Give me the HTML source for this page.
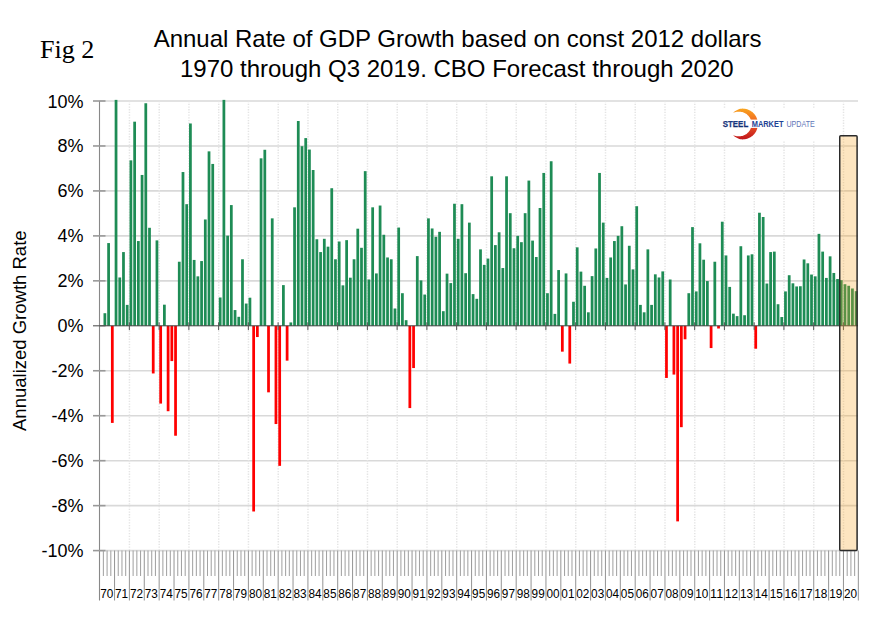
<!DOCTYPE html><html><head><meta charset="utf-8"><title>Annual Rate of GDP Growth</title><style>html,body{margin:0;padding:0;background:#fff}svg{display:block}</style></head><body><svg width="872" height="622" viewBox="0 0 872 622">
<defs><linearGradient id="cg" x1="0" y1="0" x2="0" y2="1"><stop offset="0" stop-color="#F9A51E"/><stop offset="0.5" stop-color="#EE5A24"/><stop offset="1" stop-color="#C0141B"/></linearGradient><linearGradient id="sg" x1="0" y1="0" x2="0" y2="1"><stop offset="0" stop-color="#274E9E"/><stop offset="1" stop-color="#0A2366"/></linearGradient><clipPath id="cc"><rect x="733" y="100" width="40" height="45"/></clipPath></defs>
<rect width="872" height="622" fill="#fff"/>
<text x="40" y="58.4" font-family="Liberation Serif, serif" font-size="26.1" fill="#000">Fig 2</text>
<text x="457.6" y="47" text-anchor="middle" font-family="Liberation Sans, sans-serif" font-size="24" fill="#000">Annual Rate of GDP Growth based on const 2012 dollars</text>
<text x="456.8" y="76.5" text-anchor="middle" font-family="Liberation Sans, sans-serif" font-size="24" fill="#000">1970 through Q3 2019. CBO Forecast through 2020</text>
<text transform="translate(26,330.7) rotate(-90)" text-anchor="middle" font-family="Liberation Sans, sans-serif" font-size="18.5" fill="#000">Annualized Growth Rate</text>
<line x1="99.3" y1="101" x2="858.0" y2="101" stroke="#D9D9D9" stroke-width="1.6"/>
<line x1="99.3" y1="145.96" x2="858.0" y2="145.96" stroke="#D9D9D9" stroke-width="1.6"/>
<line x1="99.3" y1="190.92" x2="858.0" y2="190.92" stroke="#D9D9D9" stroke-width="1.6"/>
<line x1="99.3" y1="235.88" x2="858.0" y2="235.88" stroke="#D9D9D9" stroke-width="1.6"/>
<line x1="99.3" y1="280.84" x2="858.0" y2="280.84" stroke="#D9D9D9" stroke-width="1.6"/>
<line x1="99.3" y1="370.76" x2="858.0" y2="370.76" stroke="#D9D9D9" stroke-width="1.6"/>
<line x1="99.3" y1="415.72" x2="858.0" y2="415.72" stroke="#D9D9D9" stroke-width="1.6"/>
<line x1="99.3" y1="460.68" x2="858.0" y2="460.68" stroke="#D9D9D9" stroke-width="1.6"/>
<line x1="99.3" y1="505.64" x2="858.0" y2="505.64" stroke="#D9D9D9" stroke-width="1.6"/>
<line x1="99.3" y1="550.6" x2="858.0" y2="550.6" stroke="#D9D9D9" stroke-width="1.6"/>
<line x1="129.45" y1="101.0" x2="129.45" y2="550.6" stroke="#E4E4E4" stroke-width="1.5" stroke-dasharray="1.3,1.4"/>
<line x1="159.21" y1="101.0" x2="159.21" y2="550.6" stroke="#E4E4E4" stroke-width="1.5" stroke-dasharray="1.3,1.4"/>
<line x1="188.96" y1="101.0" x2="188.96" y2="550.6" stroke="#E4E4E4" stroke-width="1.5" stroke-dasharray="1.3,1.4"/>
<line x1="218.71" y1="101.0" x2="218.71" y2="550.6" stroke="#E4E4E4" stroke-width="1.5" stroke-dasharray="1.3,1.4"/>
<line x1="248.46" y1="101.0" x2="248.46" y2="550.6" stroke="#E4E4E4" stroke-width="1.5" stroke-dasharray="1.3,1.4"/>
<line x1="278.22" y1="101.0" x2="278.22" y2="550.6" stroke="#E4E4E4" stroke-width="1.5" stroke-dasharray="1.3,1.4"/>
<line x1="307.97" y1="101.0" x2="307.97" y2="550.6" stroke="#E4E4E4" stroke-width="1.5" stroke-dasharray="1.3,1.4"/>
<line x1="337.72" y1="101.0" x2="337.72" y2="550.6" stroke="#E4E4E4" stroke-width="1.5" stroke-dasharray="1.3,1.4"/>
<line x1="367.48" y1="101.0" x2="367.48" y2="550.6" stroke="#E4E4E4" stroke-width="1.5" stroke-dasharray="1.3,1.4"/>
<line x1="397.23" y1="101.0" x2="397.23" y2="550.6" stroke="#E4E4E4" stroke-width="1.5" stroke-dasharray="1.3,1.4"/>
<line x1="426.98" y1="101.0" x2="426.98" y2="550.6" stroke="#E4E4E4" stroke-width="1.5" stroke-dasharray="1.3,1.4"/>
<line x1="456.74" y1="101.0" x2="456.74" y2="550.6" stroke="#E4E4E4" stroke-width="1.5" stroke-dasharray="1.3,1.4"/>
<line x1="486.49" y1="101.0" x2="486.49" y2="550.6" stroke="#E4E4E4" stroke-width="1.5" stroke-dasharray="1.3,1.4"/>
<line x1="516.24" y1="101.0" x2="516.24" y2="550.6" stroke="#E4E4E4" stroke-width="1.5" stroke-dasharray="1.3,1.4"/>
<line x1="545.99" y1="101.0" x2="545.99" y2="550.6" stroke="#E4E4E4" stroke-width="1.5" stroke-dasharray="1.3,1.4"/>
<line x1="575.75" y1="101.0" x2="575.75" y2="550.6" stroke="#E4E4E4" stroke-width="1.5" stroke-dasharray="1.3,1.4"/>
<line x1="605.5" y1="101.0" x2="605.5" y2="550.6" stroke="#E4E4E4" stroke-width="1.5" stroke-dasharray="1.3,1.4"/>
<line x1="635.25" y1="101.0" x2="635.25" y2="550.6" stroke="#E4E4E4" stroke-width="1.5" stroke-dasharray="1.3,1.4"/>
<line x1="665.01" y1="101.0" x2="665.01" y2="550.6" stroke="#E4E4E4" stroke-width="1.5" stroke-dasharray="1.3,1.4"/>
<line x1="694.76" y1="101.0" x2="694.76" y2="550.6" stroke="#E4E4E4" stroke-width="1.5" stroke-dasharray="1.3,1.4"/>
<line x1="724.51" y1="101.0" x2="724.51" y2="550.6" stroke="#E4E4E4" stroke-width="1.5" stroke-dasharray="1.3,1.4"/>
<line x1="754.26" y1="101.0" x2="754.26" y2="550.6" stroke="#E4E4E4" stroke-width="1.5" stroke-dasharray="1.3,1.4"/>
<line x1="784.02" y1="101.0" x2="784.02" y2="550.6" stroke="#E4E4E4" stroke-width="1.5" stroke-dasharray="1.3,1.4"/>
<line x1="813.77" y1="101.0" x2="813.77" y2="550.6" stroke="#E4E4E4" stroke-width="1.5" stroke-dasharray="1.3,1.4"/>
<line x1="843.52" y1="101.0" x2="843.52" y2="550.6" stroke="#E4E4E4" stroke-width="1.5" stroke-dasharray="1.3,1.4"/>
<rect x="712" y="108" width="110" height="32.5" fill="#fff"/>
<rect x="103.5" y="313.21" width="2.75" height="12.59" fill="#1E8C55"/>
<rect x="107.22" y="243.07" width="2.75" height="82.73" fill="#1E8C55"/>
<rect x="110.94" y="325.8" width="2.75" height="97.11" fill="#FF0000"/>
<rect x="114.66" y="99.88" width="2.75" height="225.92" fill="#1E8C55"/>
<rect x="118.38" y="277.47" width="2.75" height="48.33" fill="#1E8C55"/>
<rect x="122.1" y="252.07" width="2.75" height="73.73" fill="#1E8C55"/>
<rect x="125.82" y="304.89" width="2.75" height="20.91" fill="#1E8C55"/>
<rect x="129.54" y="160.35" width="2.75" height="165.45" fill="#1E8C55"/>
<rect x="133.26" y="121.68" width="2.75" height="204.12" fill="#1E8C55"/>
<rect x="136.98" y="241.05" width="2.75" height="84.75" fill="#1E8C55"/>
<rect x="140.69" y="174.96" width="2.75" height="150.84" fill="#1E8C55"/>
<rect x="144.41" y="103.25" width="2.75" height="222.55" fill="#1E8C55"/>
<rect x="148.13" y="227.79" width="2.75" height="98.01" fill="#1E8C55"/>
<rect x="151.85" y="325.8" width="2.75" height="47.66" fill="#FF0000"/>
<rect x="155.57" y="240.38" width="2.75" height="85.42" fill="#1E8C55"/>
<rect x="159.29" y="325.8" width="2.75" height="77.78" fill="#FF0000"/>
<rect x="163.01" y="304.67" width="2.75" height="21.13" fill="#1E8C55"/>
<rect x="166.73" y="325.8" width="2.75" height="85.42" fill="#FF0000"/>
<rect x="170.45" y="325.8" width="2.75" height="35.29" fill="#FF0000"/>
<rect x="174.17" y="325.8" width="2.75" height="109.93" fill="#FF0000"/>
<rect x="177.89" y="261.73" width="2.75" height="64.07" fill="#1E8C55"/>
<rect x="181.61" y="172.04" width="2.75" height="153.76" fill="#1E8C55"/>
<rect x="185.32" y="204.18" width="2.75" height="121.62" fill="#1E8C55"/>
<rect x="189.04" y="123.48" width="2.75" height="202.32" fill="#1E8C55"/>
<rect x="192.76" y="259.93" width="2.75" height="65.87" fill="#1E8C55"/>
<rect x="196.48" y="276.34" width="2.75" height="49.46" fill="#1E8C55"/>
<rect x="200.2" y="261.06" width="2.75" height="64.74" fill="#1E8C55"/>
<rect x="203.92" y="219.47" width="2.75" height="106.33" fill="#1E8C55"/>
<rect x="207.64" y="151.36" width="2.75" height="174.44" fill="#1E8C55"/>
<rect x="211.36" y="163.94" width="2.75" height="161.86" fill="#1E8C55"/>
<rect x="218.8" y="297.48" width="2.75" height="28.32" fill="#1E8C55"/>
<rect x="222.52" y="99.88" width="2.75" height="225.92" fill="#1E8C55"/>
<rect x="226.23" y="235.66" width="2.75" height="90.14" fill="#1E8C55"/>
<rect x="229.95" y="205.08" width="2.75" height="120.72" fill="#1E8C55"/>
<rect x="233.67" y="310.06" width="2.75" height="15.74" fill="#1E8C55"/>
<rect x="237.39" y="316.81" width="2.75" height="8.99" fill="#1E8C55"/>
<rect x="241.11" y="259.26" width="2.75" height="66.54" fill="#1E8C55"/>
<rect x="244.83" y="303.54" width="2.75" height="22.26" fill="#1E8C55"/>
<rect x="248.55" y="297.7" width="2.75" height="28.1" fill="#1E8C55"/>
<rect x="252.27" y="325.8" width="2.75" height="185.68" fill="#FF0000"/>
<rect x="255.99" y="325.8" width="2.75" height="11.24" fill="#FF0000"/>
<rect x="259.71" y="158.32" width="2.75" height="167.48" fill="#1E8C55"/>
<rect x="263.43" y="149.78" width="2.75" height="176.02" fill="#1E8C55"/>
<rect x="267.14" y="325.8" width="2.75" height="66.54" fill="#FF0000"/>
<rect x="270.86" y="218.35" width="2.75" height="107.45" fill="#1E8C55"/>
<rect x="274.58" y="325.8" width="2.75" height="98.24" fill="#FF0000"/>
<rect x="278.3" y="325.8" width="2.75" height="140.05" fill="#FF0000"/>
<rect x="282.02" y="285.11" width="2.75" height="40.69" fill="#1E8C55"/>
<rect x="285.74" y="325.8" width="2.75" height="34.84" fill="#FF0000"/>
<rect x="289.46" y="322.43" width="2.75" height="3.37" fill="#1E8C55"/>
<rect x="293.18" y="207.33" width="2.75" height="118.47" fill="#1E8C55"/>
<rect x="296.9" y="121.01" width="2.75" height="204.79" fill="#1E8C55"/>
<rect x="300.62" y="146.18" width="2.75" height="179.62" fill="#1E8C55"/>
<rect x="304.34" y="138.09" width="2.75" height="187.71" fill="#1E8C55"/>
<rect x="308.06" y="149.56" width="2.75" height="176.24" fill="#1E8C55"/>
<rect x="311.77" y="170.01" width="2.75" height="155.79" fill="#1E8C55"/>
<rect x="315.49" y="239.25" width="2.75" height="86.55" fill="#1E8C55"/>
<rect x="319.21" y="252.07" width="2.75" height="73.73" fill="#1E8C55"/>
<rect x="322.93" y="238.8" width="2.75" height="87" fill="#1E8C55"/>
<rect x="326.65" y="246.67" width="2.75" height="79.13" fill="#1E8C55"/>
<rect x="330.37" y="188.22" width="2.75" height="137.58" fill="#1E8C55"/>
<rect x="334.09" y="259.26" width="2.75" height="66.54" fill="#1E8C55"/>
<rect x="337.81" y="241.5" width="2.75" height="84.3" fill="#1E8C55"/>
<rect x="341.53" y="285.34" width="2.75" height="40.46" fill="#1E8C55"/>
<rect x="345.25" y="240.15" width="2.75" height="85.65" fill="#1E8C55"/>
<rect x="348.97" y="277.69" width="2.75" height="48.11" fill="#1E8C55"/>
<rect x="352.68" y="259.26" width="2.75" height="66.54" fill="#1E8C55"/>
<rect x="356.4" y="228.69" width="2.75" height="97.11" fill="#1E8C55"/>
<rect x="360.12" y="247.79" width="2.75" height="78.01" fill="#1E8C55"/>
<rect x="363.84" y="171.14" width="2.75" height="154.66" fill="#1E8C55"/>
<rect x="367.56" y="279.49" width="2.75" height="46.31" fill="#1E8C55"/>
<rect x="371.28" y="207.33" width="2.75" height="118.47" fill="#1E8C55"/>
<rect x="375" y="273.42" width="2.75" height="52.38" fill="#1E8C55"/>
<rect x="378.72" y="205.53" width="2.75" height="120.27" fill="#1E8C55"/>
<rect x="382.44" y="234.76" width="2.75" height="91.04" fill="#1E8C55"/>
<rect x="386.16" y="257.46" width="2.75" height="68.34" fill="#1E8C55"/>
<rect x="389.88" y="259.26" width="2.75" height="66.54" fill="#1E8C55"/>
<rect x="393.59" y="308.49" width="2.75" height="17.31" fill="#1E8C55"/>
<rect x="397.31" y="227.56" width="2.75" height="98.24" fill="#1E8C55"/>
<rect x="401.03" y="293.2" width="2.75" height="32.6" fill="#1E8C55"/>
<rect x="404.75" y="320.18" width="2.75" height="5.62" fill="#1E8C55"/>
<rect x="408.47" y="325.8" width="2.75" height="82.28" fill="#FF0000"/>
<rect x="412.19" y="325.8" width="2.75" height="42.26" fill="#FF0000"/>
<rect x="415.91" y="256.11" width="2.75" height="69.69" fill="#1E8C55"/>
<rect x="419.63" y="280.39" width="2.75" height="45.41" fill="#1E8C55"/>
<rect x="423.35" y="294.55" width="2.75" height="31.25" fill="#1E8C55"/>
<rect x="427.07" y="218.35" width="2.75" height="107.45" fill="#1E8C55"/>
<rect x="430.79" y="228.46" width="2.75" height="97.34" fill="#1E8C55"/>
<rect x="434.51" y="236.78" width="2.75" height="89.02" fill="#1E8C55"/>
<rect x="438.22" y="231.83" width="2.75" height="93.97" fill="#1E8C55"/>
<rect x="441.94" y="311.19" width="2.75" height="14.61" fill="#1E8C55"/>
<rect x="445.66" y="273.65" width="2.75" height="52.15" fill="#1E8C55"/>
<rect x="449.38" y="283.09" width="2.75" height="42.71" fill="#1E8C55"/>
<rect x="453.1" y="203.73" width="2.75" height="122.07" fill="#1E8C55"/>
<rect x="456.82" y="238.8" width="2.75" height="87" fill="#1E8C55"/>
<rect x="460.54" y="204.18" width="2.75" height="121.62" fill="#1E8C55"/>
<rect x="464.26" y="273.2" width="2.75" height="52.6" fill="#1E8C55"/>
<rect x="467.98" y="222.62" width="2.75" height="103.18" fill="#1E8C55"/>
<rect x="471.7" y="294.1" width="2.75" height="31.7" fill="#1E8C55"/>
<rect x="475.42" y="298.82" width="2.75" height="26.98" fill="#1E8C55"/>
<rect x="479.13" y="249.37" width="2.75" height="76.43" fill="#1E8C55"/>
<rect x="482.85" y="264.88" width="2.75" height="60.92" fill="#1E8C55"/>
<rect x="486.57" y="258.58" width="2.75" height="67.22" fill="#1E8C55"/>
<rect x="490.29" y="176.31" width="2.75" height="149.49" fill="#1E8C55"/>
<rect x="494.01" y="245.1" width="2.75" height="80.7" fill="#1E8C55"/>
<rect x="497.73" y="232.28" width="2.75" height="93.52" fill="#1E8C55"/>
<rect x="501.45" y="268.03" width="2.75" height="57.77" fill="#1E8C55"/>
<rect x="505.17" y="176.31" width="2.75" height="149.49" fill="#1E8C55"/>
<rect x="508.89" y="213.18" width="2.75" height="112.62" fill="#1E8C55"/>
<rect x="512.61" y="248.24" width="2.75" height="77.56" fill="#1E8C55"/>
<rect x="516.33" y="235.88" width="2.75" height="89.92" fill="#1E8C55"/>
<rect x="520.04" y="242.17" width="2.75" height="83.63" fill="#1E8C55"/>
<rect x="523.76" y="213.18" width="2.75" height="112.62" fill="#1E8C55"/>
<rect x="527.48" y="180.58" width="2.75" height="145.22" fill="#1E8C55"/>
<rect x="531.2" y="240.6" width="2.75" height="85.2" fill="#1E8C55"/>
<rect x="534.92" y="257.01" width="2.75" height="68.79" fill="#1E8C55"/>
<rect x="538.64" y="208" width="2.75" height="117.8" fill="#1E8C55"/>
<rect x="542.36" y="172.94" width="2.75" height="152.86" fill="#1E8C55"/>
<rect x="546.08" y="293.2" width="2.75" height="32.6" fill="#1E8C55"/>
<rect x="549.8" y="161.25" width="2.75" height="164.55" fill="#1E8C55"/>
<rect x="553.52" y="313.89" width="2.75" height="11.91" fill="#1E8C55"/>
<rect x="557.24" y="270.05" width="2.75" height="55.75" fill="#1E8C55"/>
<rect x="560.96" y="325.8" width="2.75" height="25.85" fill="#FF0000"/>
<rect x="564.67" y="273.42" width="2.75" height="52.38" fill="#1E8C55"/>
<rect x="568.39" y="325.8" width="2.75" height="37.77" fill="#FF0000"/>
<rect x="572.11" y="301.75" width="2.75" height="24.05" fill="#1E8C55"/>
<rect x="575.83" y="247.34" width="2.75" height="78.46" fill="#1E8C55"/>
<rect x="579.55" y="271.62" width="2.75" height="54.18" fill="#1E8C55"/>
<rect x="583.27" y="285.79" width="2.75" height="40.01" fill="#1E8C55"/>
<rect x="586.99" y="312.31" width="2.75" height="13.49" fill="#1E8C55"/>
<rect x="590.71" y="276.12" width="2.75" height="49.68" fill="#1E8C55"/>
<rect x="594.43" y="248.47" width="2.75" height="77.33" fill="#1E8C55"/>
<rect x="598.15" y="172.94" width="2.75" height="152.86" fill="#1E8C55"/>
<rect x="601.87" y="222.62" width="2.75" height="103.18" fill="#1E8C55"/>
<rect x="605.58" y="277.92" width="2.75" height="47.88" fill="#1E8C55"/>
<rect x="609.3" y="257.46" width="2.75" height="68.34" fill="#1E8C55"/>
<rect x="613.02" y="241.05" width="2.75" height="84.75" fill="#1E8C55"/>
<rect x="616.74" y="235.88" width="2.75" height="89.92" fill="#1E8C55"/>
<rect x="620.46" y="226.21" width="2.75" height="99.59" fill="#1E8C55"/>
<rect x="624.18" y="284.44" width="2.75" height="41.36" fill="#1E8C55"/>
<rect x="627.9" y="245.77" width="2.75" height="80.03" fill="#1E8C55"/>
<rect x="631.62" y="269.38" width="2.75" height="56.42" fill="#1E8C55"/>
<rect x="635.34" y="206.21" width="2.75" height="119.59" fill="#1E8C55"/>
<rect x="639.06" y="304.89" width="2.75" height="20.91" fill="#1E8C55"/>
<rect x="642.78" y="312.31" width="2.75" height="13.49" fill="#1E8C55"/>
<rect x="646.49" y="249.37" width="2.75" height="76.43" fill="#1E8C55"/>
<rect x="650.21" y="304.89" width="2.75" height="20.91" fill="#1E8C55"/>
<rect x="653.93" y="274.32" width="2.75" height="51.48" fill="#1E8C55"/>
<rect x="657.65" y="277.47" width="2.75" height="48.33" fill="#1E8C55"/>
<rect x="661.37" y="271.4" width="2.75" height="54.4" fill="#1E8C55"/>
<rect x="665.09" y="325.8" width="2.75" height="52.15" fill="#FF0000"/>
<rect x="668.81" y="279.49" width="2.75" height="46.31" fill="#1E8C55"/>
<rect x="672.53" y="325.8" width="2.75" height="48.78" fill="#FF0000"/>
<rect x="676.25" y="325.8" width="2.75" height="195.58" fill="#FF0000"/>
<rect x="679.97" y="325.8" width="2.75" height="101.38" fill="#FF0000"/>
<rect x="683.69" y="325.8" width="2.75" height="13.49" fill="#FF0000"/>
<rect x="687.41" y="293.2" width="2.75" height="32.6" fill="#1E8C55"/>
<rect x="691.12" y="227.11" width="2.75" height="98.69" fill="#1E8C55"/>
<rect x="694.84" y="291.41" width="2.75" height="34.39" fill="#1E8C55"/>
<rect x="698.56" y="243.3" width="2.75" height="82.5" fill="#1E8C55"/>
<rect x="702.28" y="259.71" width="2.75" height="66.09" fill="#1E8C55"/>
<rect x="706" y="281.06" width="2.75" height="44.74" fill="#1E8C55"/>
<rect x="709.72" y="325.8" width="2.75" height="22.26" fill="#FF0000"/>
<rect x="713.44" y="261.73" width="2.75" height="64.07" fill="#1E8C55"/>
<rect x="717.16" y="325.8" width="2.75" height="2.7" fill="#FF0000"/>
<rect x="720.88" y="221.72" width="2.75" height="104.08" fill="#1E8C55"/>
<rect x="724.6" y="255.44" width="2.75" height="70.36" fill="#1E8C55"/>
<rect x="728.32" y="286.91" width="2.75" height="38.89" fill="#1E8C55"/>
<rect x="732.03" y="313.66" width="2.75" height="12.14" fill="#1E8C55"/>
<rect x="735.75" y="316.13" width="2.75" height="9.67" fill="#1E8C55"/>
<rect x="739.47" y="246.22" width="2.75" height="79.58" fill="#1E8C55"/>
<rect x="743.19" y="315.23" width="2.75" height="10.57" fill="#1E8C55"/>
<rect x="746.91" y="255.44" width="2.75" height="70.36" fill="#1E8C55"/>
<rect x="750.63" y="254.31" width="2.75" height="71.49" fill="#1E8C55"/>
<rect x="754.35" y="325.8" width="2.75" height="22.93" fill="#FF0000"/>
<rect x="758.07" y="212.73" width="2.75" height="113.07" fill="#1E8C55"/>
<rect x="761.79" y="217" width="2.75" height="108.8" fill="#1E8C55"/>
<rect x="765.51" y="283.54" width="2.75" height="42.26" fill="#1E8C55"/>
<rect x="769.23" y="252.07" width="2.75" height="73.73" fill="#1E8C55"/>
<rect x="772.94" y="251.62" width="2.75" height="74.18" fill="#1E8C55"/>
<rect x="776.66" y="304.22" width="2.75" height="21.58" fill="#1E8C55"/>
<rect x="780.38" y="317.03" width="2.75" height="8.77" fill="#1E8C55"/>
<rect x="784.1" y="291.41" width="2.75" height="34.39" fill="#1E8C55"/>
<rect x="787.82" y="275.22" width="2.75" height="50.58" fill="#1E8C55"/>
<rect x="791.54" y="283.31" width="2.75" height="42.49" fill="#1E8C55"/>
<rect x="795.26" y="286.46" width="2.75" height="39.34" fill="#1E8C55"/>
<rect x="798.98" y="286.24" width="2.75" height="39.56" fill="#1E8C55"/>
<rect x="802.7" y="259.48" width="2.75" height="66.32" fill="#1E8C55"/>
<rect x="806.42" y="263.31" width="2.75" height="62.49" fill="#1E8C55"/>
<rect x="810.14" y="274.55" width="2.75" height="51.25" fill="#1E8C55"/>
<rect x="813.86" y="276.34" width="2.75" height="49.46" fill="#1E8C55"/>
<rect x="817.57" y="233.86" width="2.75" height="91.94" fill="#1E8C55"/>
<rect x="821.29" y="251.62" width="2.75" height="74.18" fill="#1E8C55"/>
<rect x="825.01" y="277.92" width="2.75" height="47.88" fill="#1E8C55"/>
<rect x="828.73" y="256.34" width="2.75" height="69.46" fill="#1E8C55"/>
<rect x="832.45" y="272.97" width="2.75" height="52.83" fill="#1E8C55"/>
<rect x="836.17" y="279.04" width="2.75" height="46.76" fill="#1E8C55"/>
<rect x="839.89" y="280.17" width="2.75" height="45.63" fill="#1E8C55"/>
<rect x="843.61" y="284.21" width="2.75" height="41.59" fill="#1E8C55"/>
<rect x="847.33" y="285.79" width="2.75" height="40.01" fill="#1E8C55"/>
<rect x="851.05" y="288.48" width="2.75" height="37.32" fill="#1E8C55"/>
<rect x="854.77" y="291.18" width="2.75" height="34.62" fill="#1E8C55"/>
<line x1="99.3" y1="325.8" x2="858.0" y2="325.8" stroke="#404040" stroke-width="1"/>
<line x1="129.35" y1="322.3" x2="129.35" y2="330.1" stroke="#555" stroke-width="1"/>
<line x1="159.11" y1="322.3" x2="159.11" y2="330.1" stroke="#555" stroke-width="1"/>
<line x1="188.86" y1="322.3" x2="188.86" y2="330.1" stroke="#555" stroke-width="1"/>
<line x1="218.61" y1="322.3" x2="218.61" y2="330.1" stroke="#555" stroke-width="1"/>
<line x1="248.36" y1="322.3" x2="248.36" y2="330.1" stroke="#555" stroke-width="1"/>
<line x1="278.12" y1="322.3" x2="278.12" y2="330.1" stroke="#555" stroke-width="1"/>
<line x1="307.87" y1="322.3" x2="307.87" y2="330.1" stroke="#555" stroke-width="1"/>
<line x1="337.62" y1="322.3" x2="337.62" y2="330.1" stroke="#555" stroke-width="1"/>
<line x1="367.38" y1="322.3" x2="367.38" y2="330.1" stroke="#555" stroke-width="1"/>
<line x1="397.13" y1="322.3" x2="397.13" y2="330.1" stroke="#555" stroke-width="1"/>
<line x1="426.88" y1="322.3" x2="426.88" y2="330.1" stroke="#555" stroke-width="1"/>
<line x1="456.64" y1="322.3" x2="456.64" y2="330.1" stroke="#555" stroke-width="1"/>
<line x1="486.39" y1="322.3" x2="486.39" y2="330.1" stroke="#555" stroke-width="1"/>
<line x1="516.14" y1="322.3" x2="516.14" y2="330.1" stroke="#555" stroke-width="1"/>
<line x1="545.89" y1="322.3" x2="545.89" y2="330.1" stroke="#555" stroke-width="1"/>
<line x1="575.65" y1="322.3" x2="575.65" y2="330.1" stroke="#555" stroke-width="1"/>
<line x1="605.4" y1="322.3" x2="605.4" y2="330.1" stroke="#555" stroke-width="1"/>
<line x1="635.15" y1="322.3" x2="635.15" y2="330.1" stroke="#555" stroke-width="1"/>
<line x1="664.91" y1="322.3" x2="664.91" y2="330.1" stroke="#555" stroke-width="1"/>
<line x1="694.66" y1="322.3" x2="694.66" y2="330.1" stroke="#555" stroke-width="1"/>
<line x1="724.41" y1="322.3" x2="724.41" y2="330.1" stroke="#555" stroke-width="1"/>
<line x1="754.16" y1="322.3" x2="754.16" y2="330.1" stroke="#555" stroke-width="1"/>
<line x1="783.92" y1="322.3" x2="783.92" y2="330.1" stroke="#555" stroke-width="1"/>
<line x1="813.67" y1="322.3" x2="813.67" y2="330.1" stroke="#555" stroke-width="1"/>
<line x1="843.42" y1="322.3" x2="843.42" y2="330.1" stroke="#555" stroke-width="1"/>
<line x1="99.5" y1="101.0" x2="99.5" y2="600.5" stroke="#888" stroke-width="1.1"/>
<line x1="93" y1="101" x2="105.5" y2="101" stroke="#999" stroke-width="1.6"/>
<text x="83.5" y="107.5" text-anchor="end" font-family="Liberation Sans, sans-serif" font-size="18" fill="#000">10%</text>
<line x1="93" y1="145.96" x2="105.5" y2="145.96" stroke="#999" stroke-width="1.6"/>
<text x="83.5" y="152.46" text-anchor="end" font-family="Liberation Sans, sans-serif" font-size="18" fill="#000">8%</text>
<line x1="93" y1="190.92" x2="105.5" y2="190.92" stroke="#999" stroke-width="1.6"/>
<text x="83.5" y="197.42" text-anchor="end" font-family="Liberation Sans, sans-serif" font-size="18" fill="#000">6%</text>
<line x1="93" y1="235.88" x2="105.5" y2="235.88" stroke="#999" stroke-width="1.6"/>
<text x="83.5" y="242.38" text-anchor="end" font-family="Liberation Sans, sans-serif" font-size="18" fill="#000">4%</text>
<line x1="93" y1="280.84" x2="105.5" y2="280.84" stroke="#999" stroke-width="1.6"/>
<text x="83.5" y="287.34" text-anchor="end" font-family="Liberation Sans, sans-serif" font-size="18" fill="#000">2%</text>
<line x1="93" y1="325.8" x2="105.5" y2="325.8" stroke="#555" stroke-width="1.1"/>
<text x="83.5" y="332.3" text-anchor="end" font-family="Liberation Sans, sans-serif" font-size="18" fill="#000">0%</text>
<line x1="93" y1="370.76" x2="105.5" y2="370.76" stroke="#999" stroke-width="1.6"/>
<text x="83.5" y="377.26" text-anchor="end" font-family="Liberation Sans, sans-serif" font-size="18" fill="#000">-2%</text>
<line x1="93" y1="415.72" x2="105.5" y2="415.72" stroke="#999" stroke-width="1.6"/>
<text x="83.5" y="422.22" text-anchor="end" font-family="Liberation Sans, sans-serif" font-size="18" fill="#000">-4%</text>
<line x1="93" y1="460.68" x2="105.5" y2="460.68" stroke="#999" stroke-width="1.6"/>
<text x="83.5" y="467.18" text-anchor="end" font-family="Liberation Sans, sans-serif" font-size="18" fill="#000">-6%</text>
<line x1="93" y1="505.64" x2="105.5" y2="505.64" stroke="#999" stroke-width="1.6"/>
<text x="83.5" y="512.14" text-anchor="end" font-family="Liberation Sans, sans-serif" font-size="18" fill="#000">-8%</text>
<line x1="93" y1="550.6" x2="105.5" y2="550.6" stroke="#999" stroke-width="1.6"/>
<text x="83.5" y="557.1" text-anchor="end" font-family="Liberation Sans, sans-serif" font-size="18" fill="#000">-10%</text>
<line x1="103.37" y1="550.6" x2="103.37" y2="576" stroke="#A3A3A3" stroke-width="1.05"/>
<line x1="107.09" y1="550.6" x2="107.09" y2="576" stroke="#A3A3A3" stroke-width="1.05"/>
<line x1="110.81" y1="550.6" x2="110.81" y2="576" stroke="#A3A3A3" stroke-width="1.05"/>
<line x1="114.53" y1="550.6" x2="114.53" y2="600.5" stroke="#999" stroke-width="1.05"/>
<line x1="118.25" y1="550.6" x2="118.25" y2="576" stroke="#A3A3A3" stroke-width="1.05"/>
<line x1="121.96" y1="550.6" x2="121.96" y2="576" stroke="#A3A3A3" stroke-width="1.05"/>
<line x1="125.68" y1="550.6" x2="125.68" y2="576" stroke="#A3A3A3" stroke-width="1.05"/>
<line x1="129.4" y1="550.6" x2="129.4" y2="600.5" stroke="#999" stroke-width="1.05"/>
<line x1="133.12" y1="550.6" x2="133.12" y2="576" stroke="#A3A3A3" stroke-width="1.05"/>
<line x1="136.84" y1="550.6" x2="136.84" y2="576" stroke="#A3A3A3" stroke-width="1.05"/>
<line x1="140.56" y1="550.6" x2="140.56" y2="576" stroke="#A3A3A3" stroke-width="1.05"/>
<line x1="144.28" y1="550.6" x2="144.28" y2="600.5" stroke="#999" stroke-width="1.05"/>
<line x1="148" y1="550.6" x2="148" y2="576" stroke="#A3A3A3" stroke-width="1.05"/>
<line x1="151.72" y1="550.6" x2="151.72" y2="576" stroke="#A3A3A3" stroke-width="1.05"/>
<line x1="155.44" y1="550.6" x2="155.44" y2="576" stroke="#A3A3A3" stroke-width="1.05"/>
<line x1="159.16" y1="550.6" x2="159.16" y2="600.5" stroke="#999" stroke-width="1.05"/>
<line x1="162.88" y1="550.6" x2="162.88" y2="576" stroke="#A3A3A3" stroke-width="1.05"/>
<line x1="166.59" y1="550.6" x2="166.59" y2="576" stroke="#A3A3A3" stroke-width="1.05"/>
<line x1="170.31" y1="550.6" x2="170.31" y2="576" stroke="#A3A3A3" stroke-width="1.05"/>
<line x1="174.03" y1="550.6" x2="174.03" y2="600.5" stroke="#999" stroke-width="1.05"/>
<line x1="177.75" y1="550.6" x2="177.75" y2="576" stroke="#A3A3A3" stroke-width="1.05"/>
<line x1="181.47" y1="550.6" x2="181.47" y2="576" stroke="#A3A3A3" stroke-width="1.05"/>
<line x1="185.19" y1="550.6" x2="185.19" y2="576" stroke="#A3A3A3" stroke-width="1.05"/>
<line x1="188.91" y1="550.6" x2="188.91" y2="600.5" stroke="#999" stroke-width="1.05"/>
<line x1="192.63" y1="550.6" x2="192.63" y2="576" stroke="#A3A3A3" stroke-width="1.05"/>
<line x1="196.35" y1="550.6" x2="196.35" y2="576" stroke="#A3A3A3" stroke-width="1.05"/>
<line x1="200.07" y1="550.6" x2="200.07" y2="576" stroke="#A3A3A3" stroke-width="1.05"/>
<line x1="203.79" y1="550.6" x2="203.79" y2="600.5" stroke="#999" stroke-width="1.05"/>
<line x1="207.5" y1="550.6" x2="207.5" y2="576" stroke="#A3A3A3" stroke-width="1.05"/>
<line x1="211.22" y1="550.6" x2="211.22" y2="576" stroke="#A3A3A3" stroke-width="1.05"/>
<line x1="214.94" y1="550.6" x2="214.94" y2="576" stroke="#A3A3A3" stroke-width="1.05"/>
<line x1="218.66" y1="550.6" x2="218.66" y2="600.5" stroke="#999" stroke-width="1.05"/>
<line x1="222.38" y1="550.6" x2="222.38" y2="576" stroke="#A3A3A3" stroke-width="1.05"/>
<line x1="226.1" y1="550.6" x2="226.1" y2="576" stroke="#A3A3A3" stroke-width="1.05"/>
<line x1="229.82" y1="550.6" x2="229.82" y2="576" stroke="#A3A3A3" stroke-width="1.05"/>
<line x1="233.54" y1="550.6" x2="233.54" y2="600.5" stroke="#999" stroke-width="1.05"/>
<line x1="237.26" y1="550.6" x2="237.26" y2="576" stroke="#A3A3A3" stroke-width="1.05"/>
<line x1="240.98" y1="550.6" x2="240.98" y2="576" stroke="#A3A3A3" stroke-width="1.05"/>
<line x1="244.7" y1="550.6" x2="244.7" y2="576" stroke="#A3A3A3" stroke-width="1.05"/>
<line x1="248.41" y1="550.6" x2="248.41" y2="600.5" stroke="#999" stroke-width="1.05"/>
<line x1="252.13" y1="550.6" x2="252.13" y2="576" stroke="#A3A3A3" stroke-width="1.05"/>
<line x1="255.85" y1="550.6" x2="255.85" y2="576" stroke="#A3A3A3" stroke-width="1.05"/>
<line x1="259.57" y1="550.6" x2="259.57" y2="576" stroke="#A3A3A3" stroke-width="1.05"/>
<line x1="263.29" y1="550.6" x2="263.29" y2="600.5" stroke="#999" stroke-width="1.05"/>
<line x1="267.01" y1="550.6" x2="267.01" y2="576" stroke="#A3A3A3" stroke-width="1.05"/>
<line x1="270.73" y1="550.6" x2="270.73" y2="576" stroke="#A3A3A3" stroke-width="1.05"/>
<line x1="274.45" y1="550.6" x2="274.45" y2="576" stroke="#A3A3A3" stroke-width="1.05"/>
<line x1="278.17" y1="550.6" x2="278.17" y2="600.5" stroke="#999" stroke-width="1.05"/>
<line x1="281.89" y1="550.6" x2="281.89" y2="576" stroke="#A3A3A3" stroke-width="1.05"/>
<line x1="285.61" y1="550.6" x2="285.61" y2="576" stroke="#A3A3A3" stroke-width="1.05"/>
<line x1="289.33" y1="550.6" x2="289.33" y2="576" stroke="#A3A3A3" stroke-width="1.05"/>
<line x1="293.04" y1="550.6" x2="293.04" y2="600.5" stroke="#999" stroke-width="1.05"/>
<line x1="296.76" y1="550.6" x2="296.76" y2="576" stroke="#A3A3A3" stroke-width="1.05"/>
<line x1="300.48" y1="550.6" x2="300.48" y2="576" stroke="#A3A3A3" stroke-width="1.05"/>
<line x1="304.2" y1="550.6" x2="304.2" y2="576" stroke="#A3A3A3" stroke-width="1.05"/>
<line x1="307.92" y1="550.6" x2="307.92" y2="600.5" stroke="#999" stroke-width="1.05"/>
<line x1="311.64" y1="550.6" x2="311.64" y2="576" stroke="#A3A3A3" stroke-width="1.05"/>
<line x1="315.36" y1="550.6" x2="315.36" y2="576" stroke="#A3A3A3" stroke-width="1.05"/>
<line x1="319.08" y1="550.6" x2="319.08" y2="576" stroke="#A3A3A3" stroke-width="1.05"/>
<line x1="322.8" y1="550.6" x2="322.8" y2="600.5" stroke="#999" stroke-width="1.05"/>
<line x1="326.52" y1="550.6" x2="326.52" y2="576" stroke="#A3A3A3" stroke-width="1.05"/>
<line x1="330.24" y1="550.6" x2="330.24" y2="576" stroke="#A3A3A3" stroke-width="1.05"/>
<line x1="333.95" y1="550.6" x2="333.95" y2="576" stroke="#A3A3A3" stroke-width="1.05"/>
<line x1="337.67" y1="550.6" x2="337.67" y2="600.5" stroke="#999" stroke-width="1.05"/>
<line x1="341.39" y1="550.6" x2="341.39" y2="576" stroke="#A3A3A3" stroke-width="1.05"/>
<line x1="345.11" y1="550.6" x2="345.11" y2="576" stroke="#A3A3A3" stroke-width="1.05"/>
<line x1="348.83" y1="550.6" x2="348.83" y2="576" stroke="#A3A3A3" stroke-width="1.05"/>
<line x1="352.55" y1="550.6" x2="352.55" y2="600.5" stroke="#999" stroke-width="1.05"/>
<line x1="356.27" y1="550.6" x2="356.27" y2="576" stroke="#A3A3A3" stroke-width="1.05"/>
<line x1="359.99" y1="550.6" x2="359.99" y2="576" stroke="#A3A3A3" stroke-width="1.05"/>
<line x1="363.71" y1="550.6" x2="363.71" y2="576" stroke="#A3A3A3" stroke-width="1.05"/>
<line x1="367.43" y1="550.6" x2="367.43" y2="600.5" stroke="#999" stroke-width="1.05"/>
<line x1="371.15" y1="550.6" x2="371.15" y2="576" stroke="#A3A3A3" stroke-width="1.05"/>
<line x1="374.86" y1="550.6" x2="374.86" y2="576" stroke="#A3A3A3" stroke-width="1.05"/>
<line x1="378.58" y1="550.6" x2="378.58" y2="576" stroke="#A3A3A3" stroke-width="1.05"/>
<line x1="382.3" y1="550.6" x2="382.3" y2="600.5" stroke="#999" stroke-width="1.05"/>
<line x1="386.02" y1="550.6" x2="386.02" y2="576" stroke="#A3A3A3" stroke-width="1.05"/>
<line x1="389.74" y1="550.6" x2="389.74" y2="576" stroke="#A3A3A3" stroke-width="1.05"/>
<line x1="393.46" y1="550.6" x2="393.46" y2="576" stroke="#A3A3A3" stroke-width="1.05"/>
<line x1="397.18" y1="550.6" x2="397.18" y2="600.5" stroke="#999" stroke-width="1.05"/>
<line x1="400.9" y1="550.6" x2="400.9" y2="576" stroke="#A3A3A3" stroke-width="1.05"/>
<line x1="404.62" y1="550.6" x2="404.62" y2="576" stroke="#A3A3A3" stroke-width="1.05"/>
<line x1="408.34" y1="550.6" x2="408.34" y2="576" stroke="#A3A3A3" stroke-width="1.05"/>
<line x1="412.06" y1="550.6" x2="412.06" y2="600.5" stroke="#999" stroke-width="1.05"/>
<line x1="415.78" y1="550.6" x2="415.78" y2="576" stroke="#A3A3A3" stroke-width="1.05"/>
<line x1="419.49" y1="550.6" x2="419.49" y2="576" stroke="#A3A3A3" stroke-width="1.05"/>
<line x1="423.21" y1="550.6" x2="423.21" y2="576" stroke="#A3A3A3" stroke-width="1.05"/>
<line x1="426.93" y1="550.6" x2="426.93" y2="600.5" stroke="#999" stroke-width="1.05"/>
<line x1="430.65" y1="550.6" x2="430.65" y2="576" stroke="#A3A3A3" stroke-width="1.05"/>
<line x1="434.37" y1="550.6" x2="434.37" y2="576" stroke="#A3A3A3" stroke-width="1.05"/>
<line x1="438.09" y1="550.6" x2="438.09" y2="576" stroke="#A3A3A3" stroke-width="1.05"/>
<line x1="441.81" y1="550.6" x2="441.81" y2="600.5" stroke="#999" stroke-width="1.05"/>
<line x1="445.53" y1="550.6" x2="445.53" y2="576" stroke="#A3A3A3" stroke-width="1.05"/>
<line x1="449.25" y1="550.6" x2="449.25" y2="576" stroke="#A3A3A3" stroke-width="1.05"/>
<line x1="452.97" y1="550.6" x2="452.97" y2="576" stroke="#A3A3A3" stroke-width="1.05"/>
<line x1="456.69" y1="550.6" x2="456.69" y2="600.5" stroke="#999" stroke-width="1.05"/>
<line x1="460.4" y1="550.6" x2="460.4" y2="576" stroke="#A3A3A3" stroke-width="1.05"/>
<line x1="464.12" y1="550.6" x2="464.12" y2="576" stroke="#A3A3A3" stroke-width="1.05"/>
<line x1="467.84" y1="550.6" x2="467.84" y2="576" stroke="#A3A3A3" stroke-width="1.05"/>
<line x1="471.56" y1="550.6" x2="471.56" y2="600.5" stroke="#999" stroke-width="1.05"/>
<line x1="475.28" y1="550.6" x2="475.28" y2="576" stroke="#A3A3A3" stroke-width="1.05"/>
<line x1="479" y1="550.6" x2="479" y2="576" stroke="#A3A3A3" stroke-width="1.05"/>
<line x1="482.72" y1="550.6" x2="482.72" y2="576" stroke="#A3A3A3" stroke-width="1.05"/>
<line x1="486.44" y1="550.6" x2="486.44" y2="600.5" stroke="#999" stroke-width="1.05"/>
<line x1="490.16" y1="550.6" x2="490.16" y2="576" stroke="#A3A3A3" stroke-width="1.05"/>
<line x1="493.88" y1="550.6" x2="493.88" y2="576" stroke="#A3A3A3" stroke-width="1.05"/>
<line x1="497.6" y1="550.6" x2="497.6" y2="576" stroke="#A3A3A3" stroke-width="1.05"/>
<line x1="501.31" y1="550.6" x2="501.31" y2="600.5" stroke="#999" stroke-width="1.05"/>
<line x1="505.03" y1="550.6" x2="505.03" y2="576" stroke="#A3A3A3" stroke-width="1.05"/>
<line x1="508.75" y1="550.6" x2="508.75" y2="576" stroke="#A3A3A3" stroke-width="1.05"/>
<line x1="512.47" y1="550.6" x2="512.47" y2="576" stroke="#A3A3A3" stroke-width="1.05"/>
<line x1="516.19" y1="550.6" x2="516.19" y2="600.5" stroke="#999" stroke-width="1.05"/>
<line x1="519.91" y1="550.6" x2="519.91" y2="576" stroke="#A3A3A3" stroke-width="1.05"/>
<line x1="523.63" y1="550.6" x2="523.63" y2="576" stroke="#A3A3A3" stroke-width="1.05"/>
<line x1="527.35" y1="550.6" x2="527.35" y2="576" stroke="#A3A3A3" stroke-width="1.05"/>
<line x1="531.07" y1="550.6" x2="531.07" y2="600.5" stroke="#999" stroke-width="1.05"/>
<line x1="534.79" y1="550.6" x2="534.79" y2="576" stroke="#A3A3A3" stroke-width="1.05"/>
<line x1="538.51" y1="550.6" x2="538.51" y2="576" stroke="#A3A3A3" stroke-width="1.05"/>
<line x1="542.23" y1="550.6" x2="542.23" y2="576" stroke="#A3A3A3" stroke-width="1.05"/>
<line x1="545.94" y1="550.6" x2="545.94" y2="600.5" stroke="#999" stroke-width="1.05"/>
<line x1="549.66" y1="550.6" x2="549.66" y2="576" stroke="#A3A3A3" stroke-width="1.05"/>
<line x1="553.38" y1="550.6" x2="553.38" y2="576" stroke="#A3A3A3" stroke-width="1.05"/>
<line x1="557.1" y1="550.6" x2="557.1" y2="576" stroke="#A3A3A3" stroke-width="1.05"/>
<line x1="560.82" y1="550.6" x2="560.82" y2="600.5" stroke="#999" stroke-width="1.05"/>
<line x1="564.54" y1="550.6" x2="564.54" y2="576" stroke="#A3A3A3" stroke-width="1.05"/>
<line x1="568.26" y1="550.6" x2="568.26" y2="576" stroke="#A3A3A3" stroke-width="1.05"/>
<line x1="571.98" y1="550.6" x2="571.98" y2="576" stroke="#A3A3A3" stroke-width="1.05"/>
<line x1="575.7" y1="550.6" x2="575.7" y2="600.5" stroke="#999" stroke-width="1.05"/>
<line x1="579.42" y1="550.6" x2="579.42" y2="576" stroke="#A3A3A3" stroke-width="1.05"/>
<line x1="583.14" y1="550.6" x2="583.14" y2="576" stroke="#A3A3A3" stroke-width="1.05"/>
<line x1="586.85" y1="550.6" x2="586.85" y2="576" stroke="#A3A3A3" stroke-width="1.05"/>
<line x1="590.57" y1="550.6" x2="590.57" y2="600.5" stroke="#999" stroke-width="1.05"/>
<line x1="594.29" y1="550.6" x2="594.29" y2="576" stroke="#A3A3A3" stroke-width="1.05"/>
<line x1="598.01" y1="550.6" x2="598.01" y2="576" stroke="#A3A3A3" stroke-width="1.05"/>
<line x1="601.73" y1="550.6" x2="601.73" y2="576" stroke="#A3A3A3" stroke-width="1.05"/>
<line x1="605.45" y1="550.6" x2="605.45" y2="600.5" stroke="#999" stroke-width="1.05"/>
<line x1="609.17" y1="550.6" x2="609.17" y2="576" stroke="#A3A3A3" stroke-width="1.05"/>
<line x1="612.89" y1="550.6" x2="612.89" y2="576" stroke="#A3A3A3" stroke-width="1.05"/>
<line x1="616.61" y1="550.6" x2="616.61" y2="576" stroke="#A3A3A3" stroke-width="1.05"/>
<line x1="620.33" y1="550.6" x2="620.33" y2="600.5" stroke="#999" stroke-width="1.05"/>
<line x1="624.05" y1="550.6" x2="624.05" y2="576" stroke="#A3A3A3" stroke-width="1.05"/>
<line x1="627.76" y1="550.6" x2="627.76" y2="576" stroke="#A3A3A3" stroke-width="1.05"/>
<line x1="631.48" y1="550.6" x2="631.48" y2="576" stroke="#A3A3A3" stroke-width="1.05"/>
<line x1="635.2" y1="550.6" x2="635.2" y2="600.5" stroke="#999" stroke-width="1.05"/>
<line x1="638.92" y1="550.6" x2="638.92" y2="576" stroke="#A3A3A3" stroke-width="1.05"/>
<line x1="642.64" y1="550.6" x2="642.64" y2="576" stroke="#A3A3A3" stroke-width="1.05"/>
<line x1="646.36" y1="550.6" x2="646.36" y2="576" stroke="#A3A3A3" stroke-width="1.05"/>
<line x1="650.08" y1="550.6" x2="650.08" y2="600.5" stroke="#999" stroke-width="1.05"/>
<line x1="653.8" y1="550.6" x2="653.8" y2="576" stroke="#A3A3A3" stroke-width="1.05"/>
<line x1="657.52" y1="550.6" x2="657.52" y2="576" stroke="#A3A3A3" stroke-width="1.05"/>
<line x1="661.24" y1="550.6" x2="661.24" y2="576" stroke="#A3A3A3" stroke-width="1.05"/>
<line x1="664.96" y1="550.6" x2="664.96" y2="600.5" stroke="#999" stroke-width="1.05"/>
<line x1="668.67" y1="550.6" x2="668.67" y2="576" stroke="#A3A3A3" stroke-width="1.05"/>
<line x1="672.39" y1="550.6" x2="672.39" y2="576" stroke="#A3A3A3" stroke-width="1.05"/>
<line x1="676.11" y1="550.6" x2="676.11" y2="576" stroke="#A3A3A3" stroke-width="1.05"/>
<line x1="679.83" y1="550.6" x2="679.83" y2="600.5" stroke="#999" stroke-width="1.05"/>
<line x1="683.55" y1="550.6" x2="683.55" y2="576" stroke="#A3A3A3" stroke-width="1.05"/>
<line x1="687.27" y1="550.6" x2="687.27" y2="576" stroke="#A3A3A3" stroke-width="1.05"/>
<line x1="690.99" y1="550.6" x2="690.99" y2="576" stroke="#A3A3A3" stroke-width="1.05"/>
<line x1="694.71" y1="550.6" x2="694.71" y2="600.5" stroke="#999" stroke-width="1.05"/>
<line x1="698.43" y1="550.6" x2="698.43" y2="576" stroke="#A3A3A3" stroke-width="1.05"/>
<line x1="702.15" y1="550.6" x2="702.15" y2="576" stroke="#A3A3A3" stroke-width="1.05"/>
<line x1="705.87" y1="550.6" x2="705.87" y2="576" stroke="#A3A3A3" stroke-width="1.05"/>
<line x1="709.59" y1="550.6" x2="709.59" y2="600.5" stroke="#999" stroke-width="1.05"/>
<line x1="713.3" y1="550.6" x2="713.3" y2="576" stroke="#A3A3A3" stroke-width="1.05"/>
<line x1="717.02" y1="550.6" x2="717.02" y2="576" stroke="#A3A3A3" stroke-width="1.05"/>
<line x1="720.74" y1="550.6" x2="720.74" y2="576" stroke="#A3A3A3" stroke-width="1.05"/>
<line x1="724.46" y1="550.6" x2="724.46" y2="600.5" stroke="#999" stroke-width="1.05"/>
<line x1="728.18" y1="550.6" x2="728.18" y2="576" stroke="#A3A3A3" stroke-width="1.05"/>
<line x1="731.9" y1="550.6" x2="731.9" y2="576" stroke="#A3A3A3" stroke-width="1.05"/>
<line x1="735.62" y1="550.6" x2="735.62" y2="576" stroke="#A3A3A3" stroke-width="1.05"/>
<line x1="739.34" y1="550.6" x2="739.34" y2="600.5" stroke="#999" stroke-width="1.05"/>
<line x1="743.06" y1="550.6" x2="743.06" y2="576" stroke="#A3A3A3" stroke-width="1.05"/>
<line x1="746.78" y1="550.6" x2="746.78" y2="576" stroke="#A3A3A3" stroke-width="1.05"/>
<line x1="750.5" y1="550.6" x2="750.5" y2="576" stroke="#A3A3A3" stroke-width="1.05"/>
<line x1="754.21" y1="550.6" x2="754.21" y2="600.5" stroke="#999" stroke-width="1.05"/>
<line x1="757.93" y1="550.6" x2="757.93" y2="576" stroke="#A3A3A3" stroke-width="1.05"/>
<line x1="761.65" y1="550.6" x2="761.65" y2="576" stroke="#A3A3A3" stroke-width="1.05"/>
<line x1="765.37" y1="550.6" x2="765.37" y2="576" stroke="#A3A3A3" stroke-width="1.05"/>
<line x1="769.09" y1="550.6" x2="769.09" y2="600.5" stroke="#999" stroke-width="1.05"/>
<line x1="772.81" y1="550.6" x2="772.81" y2="576" stroke="#A3A3A3" stroke-width="1.05"/>
<line x1="776.53" y1="550.6" x2="776.53" y2="576" stroke="#A3A3A3" stroke-width="1.05"/>
<line x1="780.25" y1="550.6" x2="780.25" y2="576" stroke="#A3A3A3" stroke-width="1.05"/>
<line x1="783.97" y1="550.6" x2="783.97" y2="600.5" stroke="#999" stroke-width="1.05"/>
<line x1="787.69" y1="550.6" x2="787.69" y2="576" stroke="#A3A3A3" stroke-width="1.05"/>
<line x1="791.41" y1="550.6" x2="791.41" y2="576" stroke="#A3A3A3" stroke-width="1.05"/>
<line x1="795.12" y1="550.6" x2="795.12" y2="576" stroke="#A3A3A3" stroke-width="1.05"/>
<line x1="798.84" y1="550.6" x2="798.84" y2="600.5" stroke="#999" stroke-width="1.05"/>
<line x1="802.56" y1="550.6" x2="802.56" y2="576" stroke="#A3A3A3" stroke-width="1.05"/>
<line x1="806.28" y1="550.6" x2="806.28" y2="576" stroke="#A3A3A3" stroke-width="1.05"/>
<line x1="810" y1="550.6" x2="810" y2="576" stroke="#A3A3A3" stroke-width="1.05"/>
<line x1="813.72" y1="550.6" x2="813.72" y2="600.5" stroke="#999" stroke-width="1.05"/>
<line x1="817.44" y1="550.6" x2="817.44" y2="576" stroke="#A3A3A3" stroke-width="1.05"/>
<line x1="821.16" y1="550.6" x2="821.16" y2="576" stroke="#A3A3A3" stroke-width="1.05"/>
<line x1="824.88" y1="550.6" x2="824.88" y2="576" stroke="#A3A3A3" stroke-width="1.05"/>
<line x1="828.6" y1="550.6" x2="828.6" y2="600.5" stroke="#999" stroke-width="1.05"/>
<line x1="832.32" y1="550.6" x2="832.32" y2="576" stroke="#A3A3A3" stroke-width="1.05"/>
<line x1="836.04" y1="550.6" x2="836.04" y2="576" stroke="#A3A3A3" stroke-width="1.05"/>
<line x1="839.75" y1="550.6" x2="839.75" y2="576" stroke="#A3A3A3" stroke-width="1.05"/>
<line x1="843.47" y1="550.6" x2="843.47" y2="600.5" stroke="#999" stroke-width="1.05"/>
<line x1="847.19" y1="550.6" x2="847.19" y2="576" stroke="#A3A3A3" stroke-width="1.05"/>
<line x1="850.91" y1="550.6" x2="850.91" y2="576" stroke="#A3A3A3" stroke-width="1.05"/>
<line x1="854.63" y1="550.6" x2="854.63" y2="576" stroke="#A3A3A3" stroke-width="1.05"/>
<line x1="858.35" y1="550.6" x2="858.35" y2="600.5" stroke="#999" stroke-width="1.05"/>
<text x="106.74" y="597.9" text-anchor="middle" font-family="Liberation Sans, sans-serif" font-size="13.7" fill="#000" textLength="13.1" lengthAdjust="spacingAndGlyphs">70</text>
<text x="121.61" y="597.9" text-anchor="middle" font-family="Liberation Sans, sans-serif" font-size="13.7" fill="#000" textLength="13.1" lengthAdjust="spacingAndGlyphs">71</text>
<text x="136.49" y="597.9" text-anchor="middle" font-family="Liberation Sans, sans-serif" font-size="13.7" fill="#000" textLength="13.1" lengthAdjust="spacingAndGlyphs">72</text>
<text x="151.37" y="597.9" text-anchor="middle" font-family="Liberation Sans, sans-serif" font-size="13.7" fill="#000" textLength="13.1" lengthAdjust="spacingAndGlyphs">73</text>
<text x="166.24" y="597.9" text-anchor="middle" font-family="Liberation Sans, sans-serif" font-size="13.7" fill="#000" textLength="13.1" lengthAdjust="spacingAndGlyphs">74</text>
<text x="181.12" y="597.9" text-anchor="middle" font-family="Liberation Sans, sans-serif" font-size="13.7" fill="#000" textLength="13.1" lengthAdjust="spacingAndGlyphs">75</text>
<text x="196" y="597.9" text-anchor="middle" font-family="Liberation Sans, sans-serif" font-size="13.7" fill="#000" textLength="13.1" lengthAdjust="spacingAndGlyphs">76</text>
<text x="210.87" y="597.9" text-anchor="middle" font-family="Liberation Sans, sans-serif" font-size="13.7" fill="#000" textLength="13.1" lengthAdjust="spacingAndGlyphs">77</text>
<text x="225.75" y="597.9" text-anchor="middle" font-family="Liberation Sans, sans-serif" font-size="13.7" fill="#000" textLength="13.1" lengthAdjust="spacingAndGlyphs">78</text>
<text x="240.63" y="597.9" text-anchor="middle" font-family="Liberation Sans, sans-serif" font-size="13.7" fill="#000" textLength="13.1" lengthAdjust="spacingAndGlyphs">79</text>
<text x="255.5" y="597.9" text-anchor="middle" font-family="Liberation Sans, sans-serif" font-size="13.7" fill="#000" textLength="13.1" lengthAdjust="spacingAndGlyphs">80</text>
<text x="270.38" y="597.9" text-anchor="middle" font-family="Liberation Sans, sans-serif" font-size="13.7" fill="#000" textLength="13.1" lengthAdjust="spacingAndGlyphs">81</text>
<text x="285.26" y="597.9" text-anchor="middle" font-family="Liberation Sans, sans-serif" font-size="13.7" fill="#000" textLength="13.1" lengthAdjust="spacingAndGlyphs">82</text>
<text x="300.13" y="597.9" text-anchor="middle" font-family="Liberation Sans, sans-serif" font-size="13.7" fill="#000" textLength="13.1" lengthAdjust="spacingAndGlyphs">83</text>
<text x="315.01" y="597.9" text-anchor="middle" font-family="Liberation Sans, sans-serif" font-size="13.7" fill="#000" textLength="13.1" lengthAdjust="spacingAndGlyphs">84</text>
<text x="329.89" y="597.9" text-anchor="middle" font-family="Liberation Sans, sans-serif" font-size="13.7" fill="#000" textLength="13.1" lengthAdjust="spacingAndGlyphs">85</text>
<text x="344.76" y="597.9" text-anchor="middle" font-family="Liberation Sans, sans-serif" font-size="13.7" fill="#000" textLength="13.1" lengthAdjust="spacingAndGlyphs">86</text>
<text x="359.64" y="597.9" text-anchor="middle" font-family="Liberation Sans, sans-serif" font-size="13.7" fill="#000" textLength="13.1" lengthAdjust="spacingAndGlyphs">87</text>
<text x="374.51" y="597.9" text-anchor="middle" font-family="Liberation Sans, sans-serif" font-size="13.7" fill="#000" textLength="13.1" lengthAdjust="spacingAndGlyphs">88</text>
<text x="389.39" y="597.9" text-anchor="middle" font-family="Liberation Sans, sans-serif" font-size="13.7" fill="#000" textLength="13.1" lengthAdjust="spacingAndGlyphs">89</text>
<text x="404.27" y="597.9" text-anchor="middle" font-family="Liberation Sans, sans-serif" font-size="13.7" fill="#000" textLength="13.1" lengthAdjust="spacingAndGlyphs">90</text>
<text x="419.14" y="597.9" text-anchor="middle" font-family="Liberation Sans, sans-serif" font-size="13.7" fill="#000" textLength="13.1" lengthAdjust="spacingAndGlyphs">91</text>
<text x="434.02" y="597.9" text-anchor="middle" font-family="Liberation Sans, sans-serif" font-size="13.7" fill="#000" textLength="13.1" lengthAdjust="spacingAndGlyphs">92</text>
<text x="448.9" y="597.9" text-anchor="middle" font-family="Liberation Sans, sans-serif" font-size="13.7" fill="#000" textLength="13.1" lengthAdjust="spacingAndGlyphs">93</text>
<text x="463.77" y="597.9" text-anchor="middle" font-family="Liberation Sans, sans-serif" font-size="13.7" fill="#000" textLength="13.1" lengthAdjust="spacingAndGlyphs">94</text>
<text x="478.65" y="597.9" text-anchor="middle" font-family="Liberation Sans, sans-serif" font-size="13.7" fill="#000" textLength="13.1" lengthAdjust="spacingAndGlyphs">95</text>
<text x="493.53" y="597.9" text-anchor="middle" font-family="Liberation Sans, sans-serif" font-size="13.7" fill="#000" textLength="13.1" lengthAdjust="spacingAndGlyphs">96</text>
<text x="508.4" y="597.9" text-anchor="middle" font-family="Liberation Sans, sans-serif" font-size="13.7" fill="#000" textLength="13.1" lengthAdjust="spacingAndGlyphs">97</text>
<text x="523.28" y="597.9" text-anchor="middle" font-family="Liberation Sans, sans-serif" font-size="13.7" fill="#000" textLength="13.1" lengthAdjust="spacingAndGlyphs">98</text>
<text x="538.16" y="597.9" text-anchor="middle" font-family="Liberation Sans, sans-serif" font-size="13.7" fill="#000" textLength="13.1" lengthAdjust="spacingAndGlyphs">99</text>
<text x="553.03" y="597.9" text-anchor="middle" font-family="Liberation Sans, sans-serif" font-size="13.7" fill="#000" textLength="13.1" lengthAdjust="spacingAndGlyphs">00</text>
<text x="567.91" y="597.9" text-anchor="middle" font-family="Liberation Sans, sans-serif" font-size="13.7" fill="#000" textLength="13.1" lengthAdjust="spacingAndGlyphs">01</text>
<text x="582.79" y="597.9" text-anchor="middle" font-family="Liberation Sans, sans-serif" font-size="13.7" fill="#000" textLength="13.1" lengthAdjust="spacingAndGlyphs">02</text>
<text x="597.66" y="597.9" text-anchor="middle" font-family="Liberation Sans, sans-serif" font-size="13.7" fill="#000" textLength="13.1" lengthAdjust="spacingAndGlyphs">03</text>
<text x="612.54" y="597.9" text-anchor="middle" font-family="Liberation Sans, sans-serif" font-size="13.7" fill="#000" textLength="13.1" lengthAdjust="spacingAndGlyphs">04</text>
<text x="627.41" y="597.9" text-anchor="middle" font-family="Liberation Sans, sans-serif" font-size="13.7" fill="#000" textLength="13.1" lengthAdjust="spacingAndGlyphs">05</text>
<text x="642.29" y="597.9" text-anchor="middle" font-family="Liberation Sans, sans-serif" font-size="13.7" fill="#000" textLength="13.1" lengthAdjust="spacingAndGlyphs">06</text>
<text x="657.17" y="597.9" text-anchor="middle" font-family="Liberation Sans, sans-serif" font-size="13.7" fill="#000" textLength="13.1" lengthAdjust="spacingAndGlyphs">07</text>
<text x="672.04" y="597.9" text-anchor="middle" font-family="Liberation Sans, sans-serif" font-size="13.7" fill="#000" textLength="13.1" lengthAdjust="spacingAndGlyphs">08</text>
<text x="686.92" y="597.9" text-anchor="middle" font-family="Liberation Sans, sans-serif" font-size="13.7" fill="#000" textLength="13.1" lengthAdjust="spacingAndGlyphs">09</text>
<text x="701.8" y="597.9" text-anchor="middle" font-family="Liberation Sans, sans-serif" font-size="13.7" fill="#000" textLength="13.1" lengthAdjust="spacingAndGlyphs">10</text>
<text x="716.67" y="597.9" text-anchor="middle" font-family="Liberation Sans, sans-serif" font-size="13.7" fill="#000" textLength="13.1" lengthAdjust="spacingAndGlyphs">11</text>
<text x="731.55" y="597.9" text-anchor="middle" font-family="Liberation Sans, sans-serif" font-size="13.7" fill="#000" textLength="13.1" lengthAdjust="spacingAndGlyphs">12</text>
<text x="746.43" y="597.9" text-anchor="middle" font-family="Liberation Sans, sans-serif" font-size="13.7" fill="#000" textLength="13.1" lengthAdjust="spacingAndGlyphs">13</text>
<text x="761.3" y="597.9" text-anchor="middle" font-family="Liberation Sans, sans-serif" font-size="13.7" fill="#000" textLength="13.1" lengthAdjust="spacingAndGlyphs">14</text>
<text x="776.18" y="597.9" text-anchor="middle" font-family="Liberation Sans, sans-serif" font-size="13.7" fill="#000" textLength="13.1" lengthAdjust="spacingAndGlyphs">15</text>
<text x="791.06" y="597.9" text-anchor="middle" font-family="Liberation Sans, sans-serif" font-size="13.7" fill="#000" textLength="13.1" lengthAdjust="spacingAndGlyphs">16</text>
<text x="805.93" y="597.9" text-anchor="middle" font-family="Liberation Sans, sans-serif" font-size="13.7" fill="#000" textLength="13.1" lengthAdjust="spacingAndGlyphs">17</text>
<text x="820.81" y="597.9" text-anchor="middle" font-family="Liberation Sans, sans-serif" font-size="13.7" fill="#000" textLength="13.1" lengthAdjust="spacingAndGlyphs">18</text>
<text x="835.69" y="597.9" text-anchor="middle" font-family="Liberation Sans, sans-serif" font-size="13.7" fill="#000" textLength="13.1" lengthAdjust="spacingAndGlyphs">19</text>
<text x="850.56" y="597.9" text-anchor="middle" font-family="Liberation Sans, sans-serif" font-size="13.7" fill="#000" textLength="13.1" lengthAdjust="spacingAndGlyphs">20</text>
<rect x="839.75" y="135.8" width="17.35" height="414.8" rx="1" fill="#F8A11E" fill-opacity="0.28" stroke="#2a2a2a" stroke-width="1.5"/>
<path fill="url(#cg)" d="M733.01,113.00 L733.72,112.26 L734.51,111.59 L735.37,110.99 L736.28,110.46 L737.25,109.99 L738.25,109.60 L739.27,109.04 L740.36,108.81 L741.48,108.66 L742.62,108.60 L743.77,108.63 L744.91,108.75 L746.06,108.97 L747.19,109.27 L748.30,109.67 L749.38,110.16 L750.43,110.73 L751.43,111.39 L752.39,112.12 L753.28,112.94 L754.12,113.83 L754.88,114.78 L755.56,115.79 L756.17,116.86 L756.69,117.98 L757.12,119.13 L757.46,120.32 L757.70,121.53 L757.85,122.76 L757.90,124.00 L757.85,125.24 L757.70,126.47 L757.46,127.68 L757.12,128.87 L756.69,130.02 L756.17,131.14 L755.56,132.21 L754.88,133.22 L754.12,134.17 L753.28,135.06 L752.39,135.88 L751.43,136.61 L750.43,137.27 L749.38,137.84 L748.30,138.33 L747.19,138.73 L746.06,139.03 L744.91,139.25 L743.77,139.37 L742.62,139.40 L741.48,139.34 L740.36,139.19 L739.27,138.96 L738.25,138.40 L737.25,138.01 L736.28,137.54 L735.37,137.01 L734.51,136.41 L733.72,135.74 L733.01,135.00 L733.01,135.00 L733.95,135.38 L734.88,135.70 L735.83,135.95 L736.77,136.14 L737.71,136.26 L738.65,136.32 L739.58,136.31 L740.49,136.23 L741.38,136.10 L742.25,135.90 L743.10,135.65 L743.91,135.34 L744.70,134.98 L745.45,134.58 L746.16,134.13 L746.84,133.64 L747.47,133.10 L748.06,132.54 L748.61,131.94 L749.12,131.31 L749.57,130.65 L749.99,129.97 L750.35,129.27 L750.67,128.55 L750.94,127.81 L751.16,127.07 L751.33,126.31 L751.45,125.54 L751.53,124.77 L751.55,124.00 L751.53,123.23 L751.45,122.46 L751.33,121.69 L751.16,120.93 L750.94,120.19 L750.67,119.45 L750.35,118.73 L749.99,118.03 L749.57,117.35 L749.12,116.69 L748.61,116.06 L748.06,115.46 L747.47,114.90 L746.84,114.36 L746.16,113.87 L745.45,113.42 L744.70,113.02 L743.91,112.66 L743.10,112.35 L742.25,112.10 L741.38,111.90 L740.49,111.77 L739.58,111.69 L738.65,111.68 L737.71,111.74 L736.77,111.86 L735.83,112.05 L734.88,112.30 L733.95,112.62 L733.01,113.00 Z"/>
<rect x="749.5" y="119.6" width="11" height="8.3" fill="#fff"/>
<text x="722.8" y="127.1" font-family="Liberation Sans, sans-serif" font-weight="bold" font-size="9.6" fill="url(#sg)" stroke="#0E2A70" stroke-width="0.25" textLength="25.4" lengthAdjust="spacingAndGlyphs">STEEL</text>
<text x="751.7" y="127.1" font-family="Liberation Sans, sans-serif" font-weight="bold" font-size="9.6" fill="#1E4294" textLength="31.8" lengthAdjust="spacingAndGlyphs">MARKET</text>
<text x="786.4" y="127.1" font-family="Liberation Sans, sans-serif" font-size="9.6" fill="#5F76B8" textLength="28.4" lengthAdjust="spacingAndGlyphs">UPDATE</text>
</svg></body></html>
